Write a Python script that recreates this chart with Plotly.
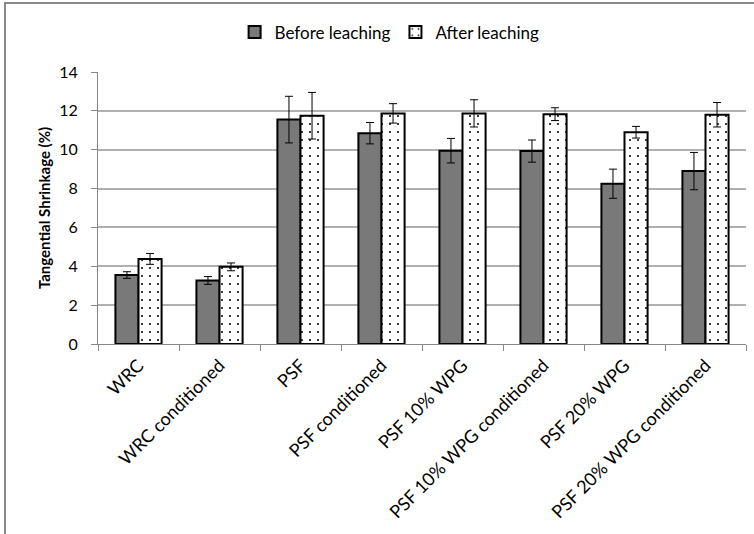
import plotly.graph_objects as go

categories = ["WRC", "WRC conditioned", "PSF", "PSF conditioned", "PSF 10% WPG",
              "PSF 10% WPG conditioned", "PSF 20% WPG", "PSF 20% WPG conditioned"]
before = [3.55, 3.27, 11.55, 10.85, 9.95, 9.93, 8.25, 8.9]
before_err = [0.17, 0.2, 1.2, 0.55, 0.63, 0.57, 0.75, 0.96]
after = [4.38, 3.97, 11.75, 11.87, 11.87, 11.83, 10.9, 11.8]
after_err = [0.28, 0.2, 1.2, 0.5, 0.7, 0.33, 0.3, 0.63]
y_ticks = [0, 2, 4, 6, 8, 10, 12, 14]

FONT = "Lato, Open Sans, sans-serif"

fig = go.Figure()
fig.add_trace(go.Bar(
    name="Before leaching", x=categories, y=before,
    error_y=dict(type="data", array=before_err, color="black", thickness=1, width=4),
    marker=dict(color="#808080", line=dict(color="black", width=2),
                pattern=dict(shape=".", fgcolor="#5e5e5e", bgcolor="#8e8e8e",
                             size=2, solidity=0.5, fillmode="replace")),
))
fig.add_trace(go.Bar(
    name="After leaching", x=categories, y=after,
    error_y=dict(type="data", array=after_err, color="black", thickness=1, width=4),
    marker=dict(color="white", line=dict(color="black", width=2),
                pattern=dict(shape=".", fgcolor="black", bgcolor="white",
                             size=8, solidity=0.05, fillmode="replace")),
))

fig.update_layout(
    width=754, height=534,
    margin=dict(l=98, r=8, t=72, b=190, autoexpand=False),
    paper_bgcolor="white", plot_bgcolor="white",
    barmode="group", bargap=0.43, bargroupgap=0.0,
    font=dict(family=FONT, size=15, color="black"),
    legend=dict(orientation="h", x=0.45, xanchor="center", y=1.145, yanchor="middle",
                font=dict(size=17), itemwidth=30, traceorder="normal"),
    showlegend=True,
    shapes=[dict(type="rect", xref="paper", yref="paper",
                 x0=-0.1435, x1=1.2, y0=-1.0, y1=1.2537,
                 line=dict(color="#888888", width=2), fillcolor="rgba(0,0,0,0)",
                 layer="below")],
)
fig.update_xaxes(
    automargin=False,
    showline=True, linecolor="#888888", linewidth=1,
    ticks="outside", tickson="boundaries", ticklen=6, tickcolor="#888888",
    tickangle=-45, tickfont=dict(size=18), showgrid=False, ticklabelstandoff=3,
)
fig.update_yaxes(
    automargin=False,
    range=[0, 14], tickvals=y_ticks, showline=True, linecolor="#888888", linewidth=1,
    ticks="outside", ticklen=6, tickcolor="#888888", ticklabelstandoff=10,
    showgrid=True, gridcolor="#b0b0b0", gridwidth=1.5,
    tickfont=dict(size=16), zeroline=False,
    title=dict(text="<b>Tangential Shrinkage (%)</b>", font=dict(size=15), standoff=4),
)

fig.write_html("out.html", config={"displayModeBar": False},
               post_script="document.body.style.margin='0';document.body.style.padding='0';")
